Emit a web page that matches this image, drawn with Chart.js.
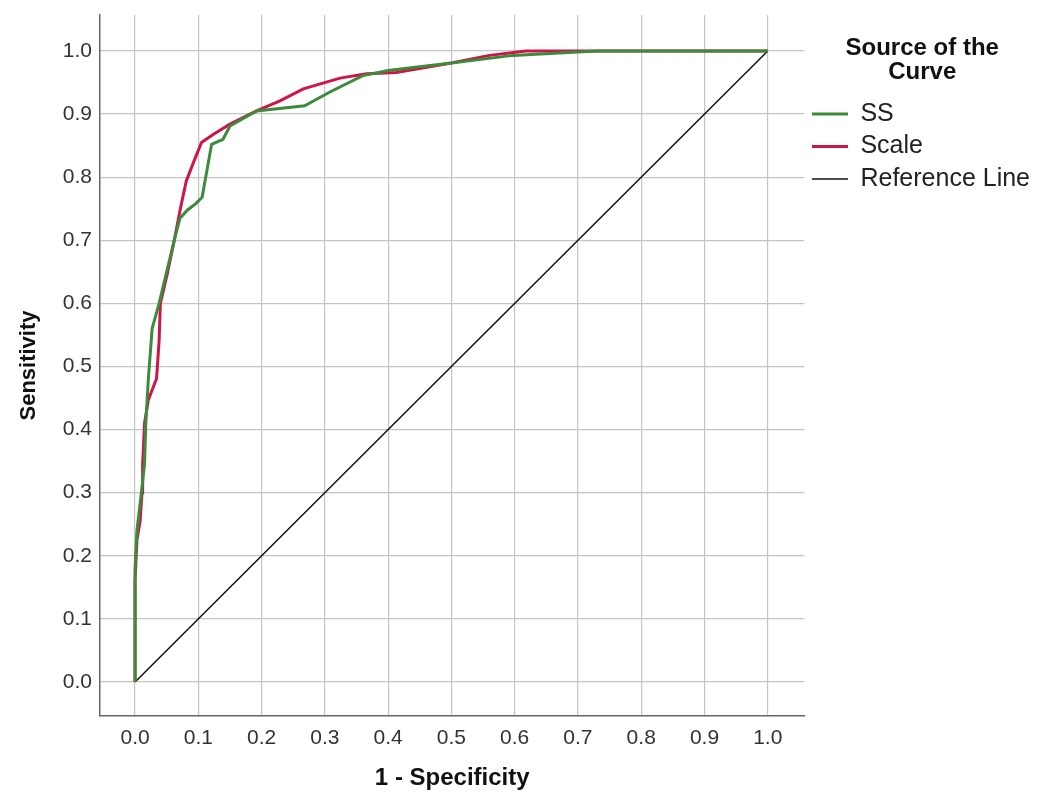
<!DOCTYPE html>
<html>
<head>
<meta charset="utf-8">
<script src="https://cdn.jsdelivr.net/npm/chart.js@4/dist/chart.umd.min.js"></script>
<style>
  body { margin: 0; background: #fff; }
  #wrap { width: 1040px; height: 805px; }
</style>
</head>
<body>
<div id="wrap"><canvas id="rocChart" width="1040" height="805"></canvas></div>
<script>
// ROC curve values
const ssFpr = [0, 0, 0.003, 0.010, 0.015, 0.017, 0.021, 0.027, 0.038, 0.050, 0.062, 0.071, 0.083, 0.096, 0.106, 0.121, 0.139, 0.150, 0.192, 0.268, 0.308, 0.360, 0.400, 0.500, 0.597, 0.730, 1.0];
const ssTpr = [0, 0.18, 0.24, 0.30, 0.345, 0.41, 0.48, 0.56, 0.60, 0.65, 0.70, 0.735, 0.748, 0.758, 0.768, 0.852, 0.860, 0.881, 0.905, 0.913, 0.935, 0.961, 0.969, 0.981, 0.993, 1.0, 1.0];

const scaleFpr = [0, 0, 0.003, 0.008, 0.011, 0.012, 0.015, 0.021, 0.034, 0.038, 0.040, 0.051, 0.062, 0.072, 0.081, 0.093, 0.105, 0.124, 0.150, 0.192, 0.229, 0.266, 0.324, 0.366, 0.413, 0.500, 0.560, 0.618, 1.0];
const scaleTpr = [0, 0.16, 0.225, 0.255, 0.30, 0.345, 0.41, 0.447, 0.481, 0.54, 0.60, 0.647, 0.70, 0.752, 0.794, 0.825, 0.855, 0.868, 0.884, 0.905, 0.921, 0.94, 0.957, 0.964, 0.966, 0.981, 0.993, 1.0, 1.0];

const refFpr = [0, 1];
const refTpr = [0, 1];

const tickValues = [0, 0.1, 0.2, 0.3, 0.4, 0.5, 0.6, 0.7, 0.8, 0.9, 1.0];

const toPoints = (xs, ys) => xs.map((x, i) => ({ x: x, y: ys[i] }));
const setTicks = scale => { scale.ticks = tickValues.map(v => ({ value: v })); };

const FONT = "'Liberation Sans', Arial, sans-serif";

const ctx = document.getElementById('rocChart').getContext('2d');
const rocChart = new Chart(ctx, {
    type: 'scatter',
    data: {
        datasets: [
            {
                label: 'SS',
                data: toPoints(ssFpr, ssTpr),
                borderColor: '#3c8a3c',
                borderWidth: 3
            },
            {
                label: 'Scale',
                data: toPoints(scaleFpr, scaleTpr),
                borderColor: '#cf1545',
                borderWidth: 3
            },
            {
                label: 'Reference Line',
                data: toPoints(refFpr, refTpr),
                borderColor: '#111111',
                borderWidth: 1.5
            }
        ]
    },
    options: {
        responsive: false,
        animation: false,
        showLine: true,
        elements: {
            point: { radius: 0, hoverRadius: 0 },
            line: { tension: 0, fill: false }
        },
        layout: { padding: { top: 15, right: 0, bottom: 0, left: 0 } },
        plugins: {
            tooltip: { enabled: false },
            legend: {
                position: 'right',
                align: 'start',
                title: {
                    display: true,
                    text: ['Source of the', 'Curve'],
                    position: 'center',
                    color: '#111',
                    font: { family: FONT, size: 24, weight: 'bold', lineHeight: 1.0 },
                    padding: { top: 21, bottom: 34 }
                },
                labels: {
                    usePointStyle: true,
                    pointStyle: 'line',
                    pointStyleWidth: 36,
                    padding: 7.5,
                    color: '#222',
                    font: { family: FONT, size: 25 }
                }
            }
        },
        scales: {
            x: {
                type: 'linear',
                min: -0.0554,
                max: 1.058,
                afterBuildTicks: setTicks,
                afterFit: s => { s.height = 89; },
                grid: { color: '#c4c4c4', lineWidth: 1.2, drawTicks: false },
                border: { color: '#666', width: 1.5 },
                ticks: {
                    padding: 10,
                    color: '#333',
                    font: { family: FONT, size: 21 },
                    callback: v => v.toFixed(1)
                },
                title: {
                    display: true,
                    text: '1 - Specificity',
                    color: '#111',
                    font: { family: FONT, size: 24, weight: 'bold' },
                    padding: { top: 0, bottom: 12 }
                }
            },
            y: {
                type: 'linear',
                min: -0.054,
                max: 1.057,
                afterBuildTicks: setTicks,
                afterFit: s => { s.width = 100; s.paddingTop = 0; s.paddingBottom = 0; },
                grid: { color: '#c4c4c4', lineWidth: 1.2, drawTicks: false },
                border: { color: '#666', width: 1.5 },
                ticks: {
                    padding: 8,
                    color: '#333',
                    font: { family: FONT, size: 21 },
                    callback: v => v.toFixed(1)
                },
                title: {
                    display: true,
                    text: 'Sensitivity',
                    color: '#111',
                    font: { family: FONT, size: 22, weight: 'bold' },
                    padding: { top: 16, bottom: 0 }
                }
            }
        }
    }
});
</script>
</body>
</html>
